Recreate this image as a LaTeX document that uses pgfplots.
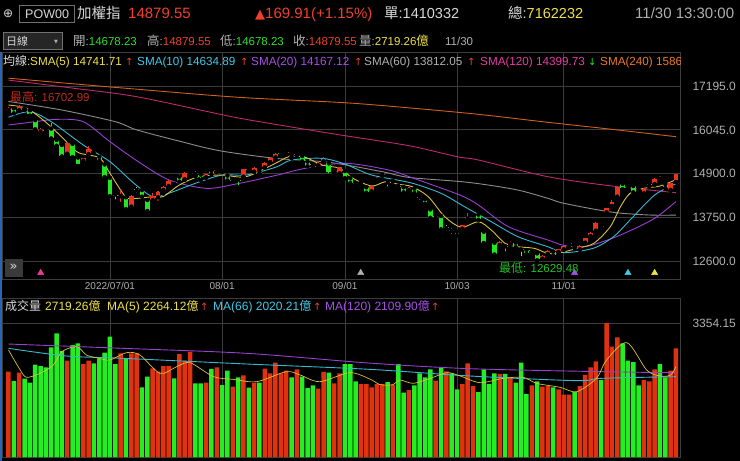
\documentclass[border=0pt]{standalone}
\usepackage{pgfplots}
\pgfplotsset{compat=1.18}
\usepackage{pgfplotstable}
\usepackage{fontspec}
\setmainfont{Liberation Sans}
\newfontfamily\cjk{Noto Sans CJK TC}
\newfontfamily\sym{DejaVu Sans}
\newcommand{\fs}[1]{\fontsize{#1}{#1}\selectfont}
\newcommand{\tx}[4]{\node[anchor=base west, inner sep=0pt, text=#3] at (#1pt,-#2pt) {#4};}

\definecolor{gridc}{HTML}{3C3C3C}
\definecolor{cred}{HTML}{E8341C}
\definecolor{cgreen}{HTML}{22E622}
\definecolor{cgrey}{HTML}{B4B4B4}
\definecolor{vred}{HTML}{E0320F}
\definecolor{vgreen}{HTML}{22EE22}
\definecolor{ma5}{HTML}{D8C040}
\definecolor{ma10}{HTML}{38B8D0}
\definecolor{ma20}{HTML}{9840D0}
\definecolor{ma60}{HTML}{8C8C8C}
\definecolor{ma120}{HTML}{C02870}
\definecolor{ma240}{HTML}{D06020}
\definecolor{tred}{HTML}{F0402C}
\definecolor{tgreen}{HTML}{2CE02C}
\definecolor{tyellow}{HTML}{F0E048}
\definecolor{tcyan}{HTML}{40C8E8}
\definecolor{tpurple}{HTML}{A850E8}
\definecolor{tgrey}{HTML}{B0B0B0}
\definecolor{tpink}{HTML}{E83CA0}
\definecolor{torange}{HTML}{F07828}
\definecolor{twhite}{HTML}{D8D8D8}
\definecolor{tdred}{HTML}{C42A1A}
\definecolor{tdgreen}{HTML}{22C422}
\definecolor{boxc}{HTML}{707070}
\definecolor{boxf}{HTML}{262626}
\definecolor{ebtn}{HTML}{3A3A3A}
\definecolor{blueb}{HTML}{2A64B4}

\pgfplotstableread{
i o h l c t
0 16560 16640 16530 16600 1
1 16610 16650 16480 16500 0
2 16560 16703 16540 16660 1
3 16600 16640 16570 16625 1
4 16560 16580 16420 16460 0
5 16300 16310 16060 16070 0
6 16000 16090 15890 16030 1
7 16040 16080 15990 16025 2
8 16080 16220 15820 15830 0
9 15780 15800 15630 15640 0
10 15650 15660 15350 15360 0
11 15420 15720 15400 15710 1
12 15680 15700 15330 15350 0
13 15320 15330 15100 15150 0
14 15240 15300 15200 15300 1
15 15413 15630 15400 15544 1
16 15520 15560 15440 15450 0
17 15340 15360 15230 15240 0
18 15140 15150 14810 14820 0
19 14790 14800 14310 14320 0
20 14350 14400 14170 14325 2
21 14310 14470 14100 14340 1
22 14280 14290 13970 13980 0
23 14034 14340 13946 14322 1
24 14460 14560 14340 14485 2
25 14470 14514 14295 14322 0
26 14208 14220 13920 13929 0
27 14208 14383 14190 14313 1
28 14278 14440 14138 14426 1
29 14470 14575 14380 14557 1
30 14575 14720 14560 14706 1
31 14630 14680 14610 14655 1
32 14819 14889 14690 14715 0
33 14750 14940 14740 14924 1
34 14968 14990 14910 14924 0
35 14890 14960 14830 14915 1
36 14872 14900 14732 14802 0
37 14802 14900 14790 14889 1
38 14976 15000 14880 14889 0
39 14960 15010 14940 14985 1
40 14970 15000 14940 14980 2
41 14846 14860 14720 14732 0
42 14730 14760 14690 14705 2
43 14740 14760 14540 14700 0
44 14819 15030 14800 15011 1
45 14990 15050 14980 15015 1
46 14950 15070 14940 15055 1
47 14960 14990 14900 14920 0
48 15064 15200 15050 15186 1
49 15204 15320 15190 15300 1
50 15326 15430 15310 15413 1
51 15445 15470 15400 15420 0
52 15430 15500 15420 15475 1
53 15360 15400 15300 15385 2
54 15400 15440 15370 15420 2
55 15361 15380 15220 15239 0
56 15212 15230 15090 15107 0
57 15130 15170 15060 15150 2
58 15116 15200 15100 15186 1
59 15221 15326 15210 15274 1
60 15168 15180 14845 14950 0
61 14950 15010 14900 14975 1
62 14907 15080 14890 15064 1
63 14968 14990 14780 14802 0
64 14776 14790 14650 14662 0
65 14640 14680 14590 14660 2
66 14700 14730 14630 14660 0
67 14540 14560 14400 14409 0
68 14435 14590 14420 14575 1
69 14740 14800 14720 14765 1
70 14870 14920 14840 14890 2
71 14670 14720 14510 14650 2
72 14710 14760 14690 14735 1
73 14580 14590 14480 14555 0
74 14540 14560 14410 14426 0
75 14470 14550 14450 14530 1
76 14505 14520 14390 14400 0
77 14290 14300 14160 14265 0
78 14226 14240 14110 14120 0
79 13964 13980 13740 13754 0
80 13800 13840 13730 13780 2
81 13789 13800 13440 13457 0
82 13470 13560 13430 13495 2
83 13400 13480 13260 13425 1
84 13378 13390 13280 13291 0
85 13457 13560 13440 13544 1
86 13720 13860 13700 13770 1
87 13824 13900 13810 13876 1
88 13824 13840 13690 13702 0
89 13378 13390 13080 13090 0
90 13060 13120 12990 13080 2
91 13090 13100 12780 12793 0
92 13029 13130 13010 13116 1
93 12995 13010 12810 12970 0
94 13060 13130 13040 13085 1
95 13090 13100 12970 12985 0
96 12910 12960 12680 12935 2
97 12898 12910 12800 12811 0
98 12870 12920 12820 12895 2
99 12811 12830 12629 12650 0
100 12671 12760 12660 12741 1
101 12793 12900 12780 12880 1
102 12854 12870 12750 12767 0
103 12846 12930 12830 12916 1
104 12916 13030 12900 13012 1
105 13045 13090 13030 13070 1
106 12990 13020 12950 13015 2
107 12916 13020 12900 13003 1
108 13090 13220 13080 13204 1
109 13265 13380 13250 13335 1
110 13405 13630 13390 13614 1
111 13525 13530 13490 13500 0
112 13885 14000 13870 13990 1
113 14051 14200 14040 14156 1
114 14295 14560 14270 14540 1
115 14627 14660 14490 14514 0
116 14505 14560 14500 14535 1
117 14575 14620 14410 14426 0
118 14480 14500 14440 14450 0
119 14383 14520 14370 14505 1
120 14590 14640 14560 14615 2
121 14627 14780 14610 14767 1
122 14770 14840 14750 14795 1
123 14627 14660 14520 14540 0
124 14470 14660 14450 14645 1
125 14678.23 14879.55 14678.23 14879.55 1
}\candles

\pgfplotstableread{
i v t
0 2136 1
1 1902 0
2 2111 1
3 1961 0
4 1861 0
5 2311 0
6 2278 0
7 2244 0
8 2745 0
9 3095 0
10 2653 0
11 2411 1
12 2803 0
13 2845 0
14 2328 1
15 2411 1
16 2345 0
17 2470 0
18 2612 0
19 3012 0
20 2328 0
21 2595 1
22 2470 0
23 2595 1
24 2595 1
25 1744 0
26 2011 0
27 2219 1
28 2136 1
29 2278 1
30 2278 1
31 1969 0
32 2578 1
33 2411 1
34 2637 1
35 1844 0
36 1844 0
37 1861 1
38 2203 0
39 2244 1
40 1802 0
41 2161 0
42 1761 1
43 1994 0
44 2044 1
45 1736 0
46 1861 1
47 1861 0
48 2211 1
49 2094 1
50 2361 1
51 2094 1
52 2161 1
53 1994 0
54 2194 1
55 2011 0
56 1727 0
57 1794 0
58 1711 1
59 2128 1
60 2111 0
61 1844 1
62 2094 1
63 2328 0
64 2328 0
65 1894 0
66 1827 1
67 1827 1
68 1744 1
69 1827 1
70 1827 1
71 1877 0
72 1811 1
73 2328 0
74 1610 0
75 1677 1
76 1794 0
77 2094 0
78 1994 0
79 2194 0
80 1911 1
81 2244 0
82 2144 1
83 2094 0
84 1694 0
85 1827 1
86 2345 1
87 1777 1
88 1627 0
89 2194 0
90 1827 0
91 2094 0
92 2078 1
93 2078 0
94 1994 1
95 1861 0
96 2361 0
97 1577 0
98 1794 1
99 1894 0
100 1761 1
101 1777 1
102 1744 0
103 1694 1
104 1560 1
105 1560 1
106 1627 0
107 1777 1
108 2053 1
109 2244 1
110 2395 1
111 1927 0
112 3354.15 1
113 2762 1
114 2995 1
115 2845 0
116 2411 0
117 2378 0
118 1794 0
119 1927 1
120 1894 1
121 2194 1
122 2328 0
123 1994 0
124 2161 1
125 2719.26 1
}\vols

\pgfplotsset{
  panel/.style={
    scale only axis, width=678pt,
    xmin=-1.217, xmax=125.75,
    axis line style={gridc, line width=0.8pt},
    xtick={19,40,63,84,104},
    grid=major, grid style={gridc, line width=0.8pt},
    major tick length=0pt,
    scaled y ticks=false, scaled x ticks=false,
    yticklabel pos=right,
    yticklabel style={font=\fs{12}, text=tgrey, xshift=9pt},
    xticklabel style={font=\fs{10}, text=tgrey},
  },
  wick/.style={only marks, mark=none, error bars/.cd, y dir=plus, y explicit, error mark=none, error bar style={#1, line width=1.1pt}},
  body/.style={only marks, mark=none, error bars/.cd, y dir=plus, y explicit, error mark=none, error bar style={#1, line width=4.8pt}},
}

\begin{document}
\begin{tikzpicture}
\useasboundingbox (0pt,0pt) rectangle (740pt,-461pt);
\fill[black] (0pt,0pt) rectangle (740pt,-461pt);

% ---------------- price panel ----------------
\begin{axis}[panel, at={(2pt,-52pt)}, anchor=north west, height=227pt,
  ymin=12138.4, ymax=18085.8,
  ytick={12600,13750,14900,16045,17195},
  yticklabels={12600.0,13750.0,14900.0,16045.0,17195.0},
  xticklabels={2022/07/01,08/01,09/01,10/03,11/01}]
\addplot[ma240, line width=0.9pt, smooth] coordinates {(0,17400) (22,17135) (43,16900) (63,16757) (76,16610) (88,16453) (100,16260) (113,16060) (125,15867)};
\addplot[ma120, line width=0.9pt, smooth] coordinates {(0,17350) (12,17140) (24,16915) (41.5,16400) (50,16190) (62,15915) (75,15631) (84,15343) (88,15256) (101,14819) (113,14575) (125,14400)};
\addplot[ma60, line width=0.9pt, smooth] coordinates {(0,16790) (10,16566) (20,16260) (24,16045) (32,15750) (39.5,15500) (50,15300) (60,15196) (70,14950) (75,14800) (86,14672) (95,14480) (101,14253) (104,14122) (113,13890) (120,13815) (125,13812)};
\addplot[ma20, line width=0.9pt, smooth] coordinates {(0,16173) (5,16260) (9,16322) (14,16260) (19,15736) (24.3,15213) (30.1,14732) (37,14514) (42.6,14627) (50,14850) (55.6,15038) (63.1,15170) (71.2,14994) (75.6,14790) (84.5,14339) (88,14077) (93.6,13509) (101,13160) (104,13020) (108,12990) (112,13150) (116,13378) (121,13728) (125,14167)};
\addplot[ma10, line width=0.9pt, smooth] coordinates {(0,16375) (4,16522) (8,16260) (14,15650) (19,15212) (23.5,14646) (27,14295) (30,14384) (35,14646) (40,14863) (44.5,14863) (50,15065) (53,15256) (58.7,15300) (63,15151) (68,14863) (75.3,14660) (81,14384) (85.4,14033) (90.4,13640) (95.4,13247) (101,12985) (104,12830) (109.5,12943) (113.3,13247) (116.4,13684) (121,14339) (125,14635)};
\addplot[ma5, line width=0.9pt, smooth] coordinates {(0,16697) (3.4,16610) (6.5,16304) (9.6,15911) (12.8,15474) (15,15387) (17.2,15300) (19,14908) (21,14470) (22.3,14253) (24.3,14253) (27,14295) (29,14300) (32,14601) (35.6,14819) (40,14863) (44.5,14819) (50,15170) (52.5,15343) (55.5,15330) (58.7,15125) (62,15038) (64.5,14777) (68,14575) (70.6,14688) (73,14620) (75.6,14557) (78.6,14295) (81.7,13771) (84.8,13492) (88,13640) (90.4,13422) (93,13073) (95.4,12985) (98.5,12941) (101,12811) (103.4,12830) (106.5,12943) (109.6,13073) (112.7,13509) (114.6,14033) (116.4,14384) (119,14514) (122,14575) (125,14742)};
% candles
\addplot[restrict expr to domain={\thisrow{t}}{1:1}, wick=cred] table[x=i, y=l, y error plus expr=\thisrow{h}-\thisrow{l}] {\candles};
\addplot[restrict expr to domain={\thisrow{t}}{1:1}, body=cred] table[x=i, y=o, y error plus expr=\thisrow{c}-\thisrow{o}] {\candles};
\addplot[restrict expr to domain={\thisrow{t}}{0:0}, wick=cgreen] table[x=i, y=l, y error plus expr=\thisrow{h}-\thisrow{l}] {\candles};
\addplot[restrict expr to domain={\thisrow{t}}{0:0}, body=cgreen] table[x=i, y=o, y error plus expr=\thisrow{c}-\thisrow{o}] {\candles};
\addplot[restrict expr to domain={\thisrow{t}}{2:2}, wick=cgrey] table[x=i, y=l, y error plus expr=\thisrow{h}-\thisrow{l}] {\candles};
\addplot[restrict expr to domain={\thisrow{t}}{2:2}, body=cgrey] table[x=i, y=o, y error plus expr=\thisrow{c}-\thisrow{o}] {\candles};
% event markers
\addplot[only marks, mark=triangle*, mark size=3.6pt, color=tpink] coordinates {(6.03,12300)};
\addplot[only marks, mark=triangle*, mark size=3.6pt, color=tgrey] coordinates {(65.96,12300)};
\addplot[only marks, mark=triangle*, mark size=3.6pt, color=tpurple] coordinates {(106,12300)};
\addplot[only marks, mark=triangle*, mark size=3.6pt, color=tcyan] coordinates {(116,12300)};
\addplot[only marks, mark=triangle*, mark size=3.6pt, color=tyellow] coordinates {(121,12300)};
\end{axis}

% ---------------- volume panel ----------------
\begin{axis}[panel, at={(2pt,-298pt)}, anchor=north west, height=159pt,
  ymin=0, ymax=3980, ytick={3354.15}, yticklabels={3354.15}, xticklabels={}]
\addplot[ybar, bar width=4.5pt, bar shift=0pt, fill=vred, draw=none, restrict expr to domain={\thisrow{t}}{1:1}] table[x=i, y=v] {\vols};
\addplot[ybar, bar width=4.5pt, bar shift=0pt, fill=vgreen, draw=none, restrict expr to domain={\thisrow{t}}{0:0}] table[x=i, y=v] {\vols};
\addplot[ma20, line width=0.9pt, smooth] coordinates {(0,2828) (21.5,2720) (44.6,2595) (67.7,2350) (86.4,2211) (111,2136) (125,2110)};
\addplot[ma10, line width=0.9pt, smooth] coordinates {(0,2720) (10.9,2528) (21.5,2470) (44.6,2328) (67.7,2194) (86.4,2028) (106.4,1911) (111,1969) (125,2011)};
\addplot[ma5, line width=0.7pt, smooth] coordinates {(0,2678) (2.2,2178) (3.4,1994) (6,2100) (8.4,2303) (10,2637) (12.8,2762) (14.6,2553) (17,2470) (19,2428) (22.1,2612) (24.6,2553) (28.4,2094) (31.5,2261) (34,2361) (38.4,2011) (42.1,1944) (46.5,1886) (52,2136) (54.6,2053) (58.3,1886) (63.9,2111) (67.7,1950) (69.6,1811) (72,1811) (73.3,1927) (75.8,1844) (79,1969) (82.1,2111) (84.6,2028) (88.3,1861) (92.7,1969) (96.4,1994) (98.9,1844) (103.3,1744) (106.4,1635) (110.1,1969) (112,2428) (115.8,2862) (119.5,2178) (122,2028) (124,2053) (125,2264)};
\end{axis}

% left blue border
\draw[blueb, line width=1.6pt] (1pt,-52pt) -- (1pt,-461pt);

% ---------------- header row 1 ----------------
\node[anchor=base west, inner sep=0pt, text=twhite] at (3pt,-17.5pt) {\sym\fs{12}⊕};
\draw[boxc, line width=0.8pt] (19pt,-5pt) rectangle (74pt,-22pt);
\tx{25}{18}{twhite}{\fs{12.5}POW00}
\tx{77}{18.5}{twhite}{\cjk\fs{14.5}加權指}
\tx{128}{18.5}{tred}{\fs{15}14879.55}
\tx{255}{18.5}{tred}{\fs{15}{\sym\fs{13}▲}169.91(+1.15\%)}
\tx{384}{18.5}{twhite}{\fs{14.5}{\cjk 單}:1410332}
\tx{508}{18.5}{twhite}{\fs{14.5}{\cjk 總}:\textcolor{tyellow}{7162232}}
\tx{635}{18.5}{tgrey}{\fs{15}11/30 13:30:00}

% ---------------- header row 2 ----------------
\filldraw[fill=boxf, draw=boxc, line width=0.6pt] (3pt,-32pt) rectangle (62pt,-49pt);
\tx{6}{45}{twhite}{\cjk\fs{11}日線}
\tx{54}{43}{tgrey}{\sym\fs{5}▼}
\tx{73}{45.5}{tgrey}{\fs{11.5}{\cjk\fs{12.5}開}:\textcolor{tgreen}{14678.23}}
\tx{147}{45.5}{tgrey}{\fs{11.5}{\cjk\fs{12.5}高}:\textcolor{tred}{14879.55}}
\tx{220}{45.5}{tgrey}{\fs{11.5}{\cjk\fs{12.5}低}:\textcolor{tgreen}{14678.23}}
\tx{293}{45.5}{tgrey}{\fs{11.5}{\cjk\fs{12.5}收}:\textcolor{tred}{14879.55}}
\tx{359}{45.5}{tgrey}{\fs{11.5}{\cjk\fs{12.5}量}:\textcolor{tyellow}{2719.26{\cjk\fs{12.5}億}}}
\tx{445}{45.5}{tgrey}{\fs{11.5}11/30}

% ---------------- SMA legend row ----------------
\tx{3}{65}{twhite}{\fs{11.7}{\cjk\fs{12}均線}:}
\tx{30}{65}{tyellow}{\fs{11.7}SMA(5) 14741.71}
\tx{125}{65}{tred}{\sym\fs{10}↑}
\tx{137}{65}{tcyan}{\fs{11.7}SMA(10) 14634.89}
\tx{240}{65}{tred}{\sym\fs{10}↑}
\tx{251}{65}{tpurple}{\fs{11.7}SMA(20) 14167.12}
\tx{354}{65}{tred}{\sym\fs{10}↑}
\tx{364}{65}{tgrey}{\fs{11.7}SMA(60) 13812.05}
\tx{467}{65}{tred}{\sym\fs{10}↑}
\tx{480}{65}{tpink}{\fs{11.7}SMA(120) 14399.73}
\tx{588}{65}{tgreen}{\sym\fs{10}↓}
\begin{scope}
\clip (598pt,-50pt) rectangle (680pt,-72pt);
\tx{600}{65}{torange}{\fs{11.7}SMA(240) 15867.12}
\end{scope}

% ---------------- annotations ----------------
\tx{10}{101}{tdred}{\fs{11.5}{\cjk\fs{12}最高}: 16702.99}
\tx{499}{272.5}{tdgreen}{\fs{11.5}{\cjk\fs{12}最低}: 12629.48}
\filldraw[fill=ebtn, draw=ebtn] (5pt,-259pt) rectangle (22pt,-276pt);
\node[text=twhite, inner sep=0pt] at (13.5pt,-267.5pt) {\sym\fs{13}»};

% ---------------- volume header ----------------
\tx{5}{310}{twhite}{\cjk\fs{12}成交量}
\tx{45}{310}{tyellow}{\fs{12}2719.26{\cjk 億}}
\tx{107}{310}{tyellow}{\fs{12}MA(5) 2264.12{\cjk 億}}
\tx{200}{310}{tred}{\sym\fs{10}↑}
\tx{213}{310}{tcyan}{\fs{12}MA(66) 2020.21{\cjk 億}}
\tx{313}{310}{tred}{\sym\fs{10}↑}
\tx{325}{310}{tpurple}{\fs{12}MA(120) 2109.90{\cjk 億}}
\tx{431}{310}{tred}{\sym\fs{10}↑}
\end{tikzpicture}
\end{document}
